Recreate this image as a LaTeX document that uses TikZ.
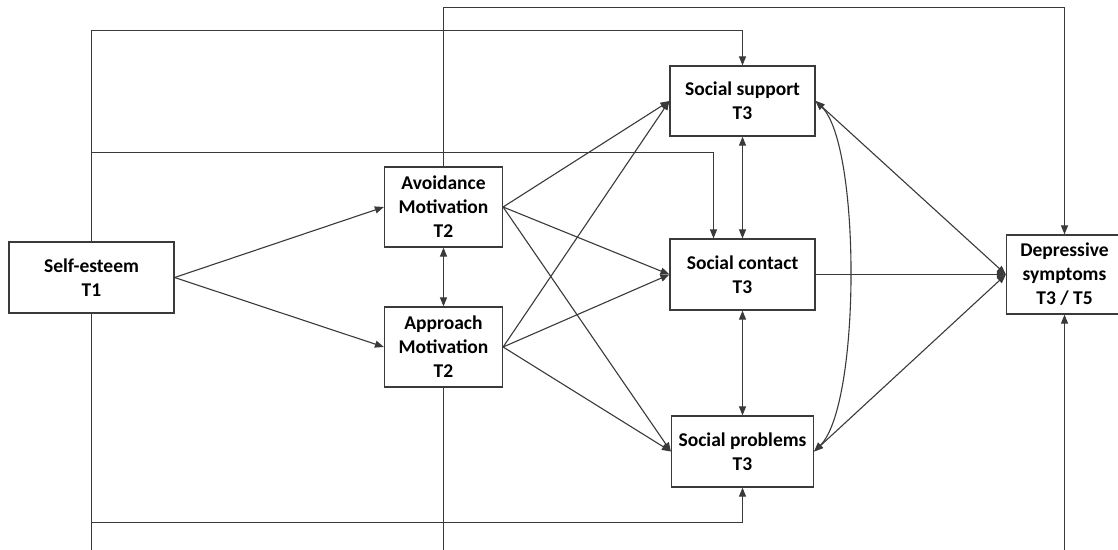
\documentclass[tikz,border=0pt]{standalone}
\usepackage{fontspec}
\setmainfont{Carlito}
\usetikzlibrary{arrows.meta}
\definecolor{linec}{HTML}{3A3A3A}
\tikzset{
  box/.style={draw=linec, line width=1.2pt, fill=white, align=center, inner sep=0pt,
    font=\bfseries\fontsize{19.5}{24}\selectfont, text=black},
  conn/.style={draw=linec, line width=1.1pt},
  arr/.style={conn, -{Triangle[length=9pt,width=7pt]}},
  darr/.style={conn, {Triangle[length=9pt,width=7pt]}-{Triangle[length=9pt,width=7pt]}}
}
\begin{document}
\begin{tikzpicture}[x=1pt,y=-1pt]
\clip (0,0) rectangle (1118,549);
\fill[white] (0,0) rectangle (1118,549);
% nodes
\node[box, minimum width=165pt, minimum height=71pt] (se) at (91.5,277.5) {Self-esteem\\T1};
\node[box, minimum width=118pt, minimum height=80pt] (av) at (443.5,207) {Avoidance\\Motivation\\T2};
\node[box, minimum width=118pt, minimum height=80pt] (ap) at (443.5,347) {Approach\\Motivation\\T2};
\node[box, minimum width=145pt, minimum height=70pt] (ss) at (742.5,101) {Social support\\T3};
\node[box, minimum width=145pt, minimum height=71pt] (sc) at (742.5,274.5) {Social contact\\T3};
\node[box, minimum width=142pt, minimum height=71pt] (sp) at (742.5,451.5) {Social problems\\T3};
\node[box, minimum width=116pt, minimum height=79pt] (dep) at (1064.5,274.5) {Depressive\\symptoms\\T3 / T5};
% routing coordinates
\coordinate (t1) at (443.5,7.5);
\coordinate (r1) at (91.5,30.5);
\coordinate (r2) at (91.5,152.5);
\coordinate (r2b) at (713.5,152.5);
\coordinate (b1) at (91.5,522.5);
\coordinate (b2) at (91.5,560);
\coordinate (b3) at (443.5,560);
% long routed connectors
\draw[arr] (av.north) -- (t1) -| (dep.north);
\draw[arr] (se.north) -- (r1) -| (ss.north);
\draw[arr] (se.north) -- (r2) -- (r2b) -- (r2b |- sc.north);
\draw[arr] (se.south) -- (b1) -| (sp.south);
\draw[arr] (se.south) -- (b2) -| (dep.south);
\draw[conn] (ap.south) -- (b3);
% paths from self-esteem
\draw[arr] (se.east) -- (av.west);
\draw[arr] (se.east) -- (ap.west);
% motivations to social
\draw[arr] (av.east) -- (ss.west);
\draw[arr] (av.east) -- (sc.west);
\draw[arr] (av.east) -- (sp.west);
\draw[arr] (ap.east) -- (ss.west);
\draw[arr] (ap.east) -- (sc.west);
\draw[arr] (ap.east) -- (sp.west);
% correlations
\draw[darr] (av.south) -- (ap.north);
\draw[darr] (ss.south) -- (sc.north);
\draw[darr] (sc.south) -- (sp.north);
\draw[darr] (ss.east) .. controls (861,145) and (861,405) .. (sp.east);
% to depressive symptoms
\draw[arr] (sc.east) -- (dep.west);
\draw[darr] (ss.east) -- (dep.west);
\draw[darr] (sp.east) -- (dep.west);
\end{tikzpicture}
\end{document}
